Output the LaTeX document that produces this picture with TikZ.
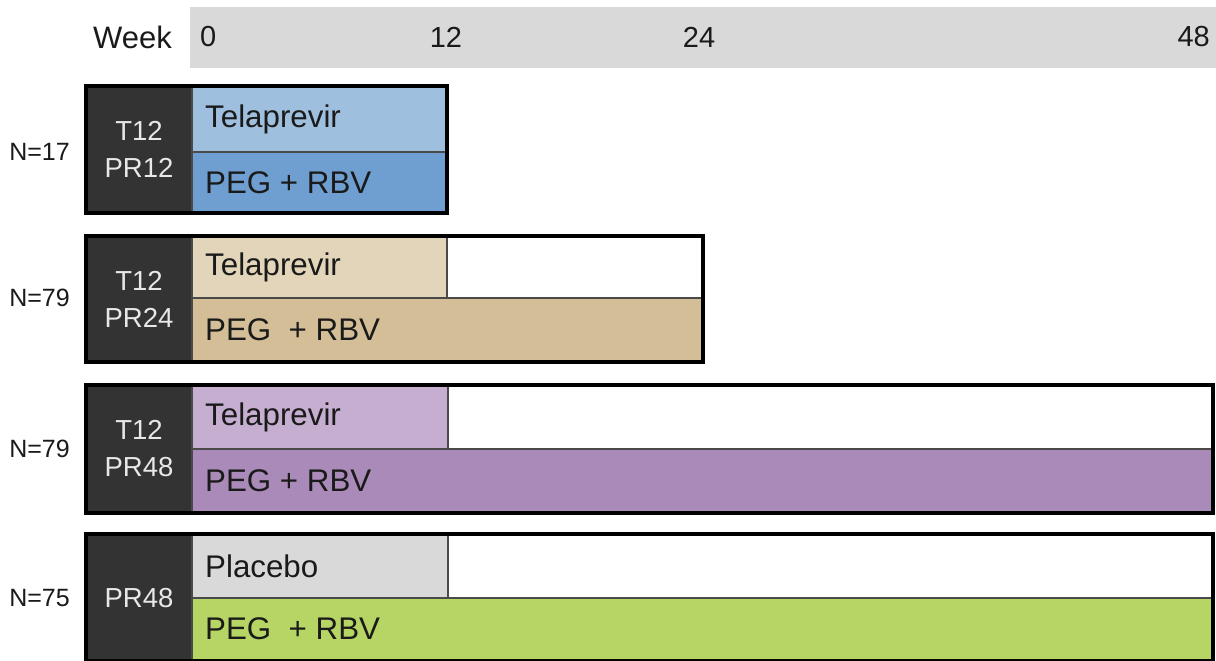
\documentclass[tikz,border=0pt]{standalone}
\usepackage{fontspec}
\setmainfont{Liberation Sans}
\definecolor{hdr}{HTML}{D9D9D9}
\definecolor{darkc}{HTML}{333333}
\definecolor{blueL}{HTML}{9FBFDF}
\definecolor{blueD}{HTML}{6E9FD0}
\definecolor{tanL}{HTML}{E2D5B9}
\definecolor{tanD}{HTML}{D3BE98}
\definecolor{purL}{HTML}{C6AED0}
\definecolor{purD}{HTML}{A98AB8}
\definecolor{grayL}{HTML}{D9D9D9}
\definecolor{greenD}{HTML}{B6D564}
\definecolor{cellline}{HTML}{4A4A4A}
\definecolor{txt}{HTML}{1A1A1A}
\definecolor{lighttxt}{HTML}{E8E8E8}
\tikzset{
  cell/.style={draw=cellline, line width=1.2pt, anchor=north west, inner sep=0pt, outer sep=0pt},
  dark/.style={fill=darkc, anchor=north west, inner sep=0pt, outer sep=0pt},
  frame/.style={draw=black, line width=4pt, anchor=north west, inner sep=0pt, outer sep=0pt},
  celltext/.style={anchor=west, inner sep=0pt, text=txt, font=\fontsize{31.3}{34}\selectfont},
  armtext/.style={align=center, inner sep=0pt, text=lighttxt, font=\fontsize{27.5}{37}\selectfont},
  ntext/.style={anchor=east, inner sep=0pt, text=txt, font=\fontsize{25}{28}\selectfont},
  hdrtext/.style={inner sep=0pt, text=txt, font=\fontsize{29}{32}\selectfont},
}
\begin{document}
\begin{tikzpicture}[x=1pt,y=-1pt]
\useasboundingbox (0,0) rectangle (1216,661);
\fill[white] (0,0) rectangle (1216,661);
% header
\node[fill=hdr, anchor=north west, inner sep=0pt, minimum width=1026pt, minimum height=61pt] (hdr) at (190,7) {};
\node[hdrtext, anchor=east, font=\fontsize{31}{34}\selectfont] (week) at (172,37) {Week};
\node[hdrtext, anchor=west] (w0) at (200,37) {0};
\node[hdrtext] (w12) at (446,37) {12};
\node[hdrtext] (w24) at (699,37) {24};
\node[hdrtext, anchor=east] (w48) at (1210,37) {48};
% row 1
\node[dark, minimum width=106pt, minimum height=127pt] (r1d) at (86,86) {};
\node[cell, fill=blueL, minimum width=255pt, minimum height=66pt] (r1t) at (192,86) {};
\node[cell, fill=blueD, minimum width=255pt, minimum height=61pt] (r1b) at (192,152) {};
\node[frame, minimum width=361pt, minimum height=127pt] (r1) at (86,86) {};
\node[armtext] (r1a) at (r1d.center) {T12\\PR12};
\node[celltext] (r1tl) at ([xshift=13pt]r1t.west) {Telaprevir};
\node[celltext] (r1bl) at ([xshift=13pt]r1b.west) {PEG + RBV};
\node[ntext] (n1) at (70,152) {N=17};
% row 2
\node[dark, minimum width=106pt, minimum height=126pt] (r2d) at (86,236) {};
\node[cell, fill=tanL, minimum width=255pt, minimum height=62pt] (r2t) at (192,236) {};
\node[cell, fill=white, minimum width=256pt, minimum height=62pt] (r2w) at (447,236) {};
\node[cell, fill=tanD, minimum width=511pt, minimum height=64pt] (r2b) at (192,298) {};
\node[frame, minimum width=617pt, minimum height=126pt] (r2) at (86,236) {};
\node[armtext] (r2a) at (r2d.center) {T12\\PR24};
\node[celltext] (r2tl) at ([xshift=13pt]r2t.west) {Telaprevir};
\node[celltext] (r2bl) at ([xshift=13pt]r2b.west) {PEG~~+ RBV};
\node[ntext] (n2) at (70,298) {N=79};
% row 3
\node[dark, minimum width=106pt, minimum height=128pt] (r3d) at (86,385) {};
\node[cell, fill=purL, minimum width=256pt, minimum height=64pt] (r3t) at (192,385) {};
\node[cell, fill=white, minimum width=765pt, minimum height=64pt] (r3w) at (448,385) {};
\node[cell, fill=purD, minimum width=1021pt, minimum height=64pt] (r3b) at (192,449) {};
\node[frame, minimum width=1127pt, minimum height=128pt] (r3) at (86,385) {};
\node[armtext] (r3a) at (r3d.center) {T12\\PR48};
\node[celltext] (r3tl) at ([xshift=13pt]r3t.west) {Telaprevir};
\node[celltext] (r3bl) at ([xshift=13pt]r3b.west) {PEG + RBV};
\node[ntext] (n3) at (70,449) {N=79};
% row 4
\node[dark, minimum width=106pt, minimum height=127pt] (r4d) at (86,534) {};
\node[cell, fill=grayL, minimum width=256pt, minimum height=64pt] (r4t) at (192,534) {};
\node[cell, fill=white, minimum width=765pt, minimum height=64pt] (r4w) at (448,534) {};
\node[cell, fill=greenD, minimum width=1021pt, minimum height=62pt] (r4b) at (192,598) {};
\node[frame, minimum width=1127pt, minimum height=127pt] (r4) at (86,534) {};
\node[armtext] (r4a) at ([yshift=-1pt]r4d.center) {PR48};
\node[celltext] (r4tl) at ([xshift=13pt]r4t.west) {Placebo};
\node[celltext] (r4bl) at ([xshift=13pt]r4b.west) {PEG~~+ RBV};
\node[ntext] (n4) at (70,598) {N=75};
\end{tikzpicture}
\end{document}
